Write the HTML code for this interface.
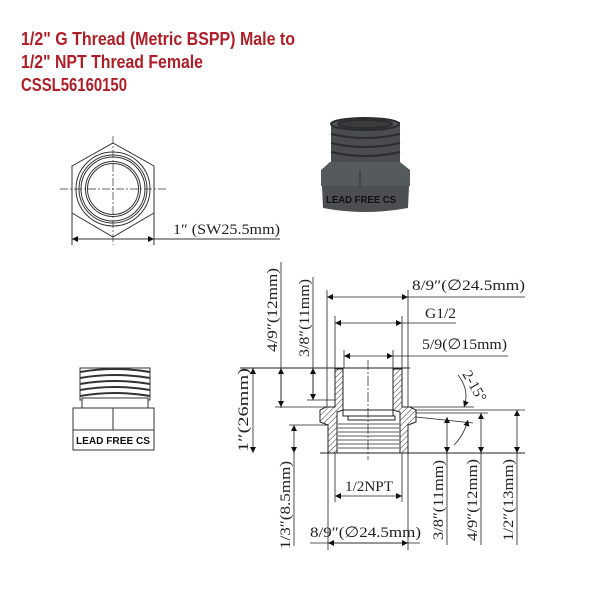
<!DOCTYPE html>
<html><head><meta charset="utf-8"><style>
html,body{margin:0;padding:0;background:#fff;}
svg{display:block}
.t{font-family:"Liberation Serif",serif;font-size:15px;fill:#222}
</style></head><body>
<svg width="600" height="600" viewBox="0 0 600 600" xmlns="http://www.w3.org/2000/svg">
<defs>
<pattern id="h" width="4" height="4" patternUnits="userSpaceOnUse" patternTransform="rotate(45)">
<line x1="0" y1="0" x2="0" y2="4" stroke="#333" stroke-width="1"/></pattern>
<marker id="a" viewBox="0 0 10 10" refX="10" refY="5" markerWidth="12" markerHeight="6" orient="auto-start-reverse" markerUnits="userSpaceOnUse">
<path d="M0,0 L10,5 L0,10 z" fill="#111"/></marker>
</defs>
<g font-family="'Liberation Sans Narrow','Liberation Sans',sans-serif" font-weight="bold" font-size="18" fill="#b01f27">
<text x="21" y="45" textLength="274" lengthAdjust="spacingAndGlyphs">1/2" G Thread (Metric BSPP) Male to</text>
<text x="21" y="68" textLength="182" lengthAdjust="spacingAndGlyphs">1/2" NPT Thread Female</text>
<text x="21" y="91" textLength="106" lengthAdjust="spacingAndGlyphs">CSSL56160150</text>
</g>

<!-- hex end view -->
<g stroke="#333" fill="none" stroke-width="1">
<polygon points="113,143 154,166 154,213 113,237 72,213 72,166"/>
<circle cx="113" cy="189" r="37"/>
<circle cx="113" cy="189" r="34"/>
<circle cx="113" cy="189" r="32"/>
<circle cx="113" cy="189" r="27.5"/>
<circle cx="113" cy="189" r="25.5"/>
<line x1="60" y1="189" x2="166" y2="189" stroke-dasharray="8,2,2,2" stroke-width="0.7"/>
<line x1="113" y1="136" x2="113" y2="245" stroke-dasharray="8,2,2,2" stroke-width="0.7"/>
<line x1="72" y1="213" x2="72" y2="245"/><line x1="154" y1="213" x2="154" y2="245"/>
<line x1="72" y1="239" x2="154" y2="239" marker-start="url(#a)" marker-end="url(#a)"/>
<line x1="154" y1="239" x2="280" y2="239"/>
</g>
<text class="t" x="173" y="234" textLength="107" lengthAdjust="spacingAndGlyphs">1″ (SW25.5mm)</text>

<!-- 3D top -->
<g>
<rect x="331" y="122" width="69" height="42" fill="#4a4d50"/>
<g stroke="#2a2c2e" stroke-width="2" fill="none">
<ellipse cx="365" cy="124" rx="34" ry="6" fill="#55585b"/>
<ellipse cx="365" cy="124" rx="27" ry="4" fill="#3a3c3e"/>
<path d="M331,134 Q365,142 400,134"/><path d="M331,143 Q365,151 400,143"/><path d="M331,152 Q365,160 400,152"/>
</g>
<path d="M321,170 L330,162 L400,162 L410,170 L410,186 L321,186 Z" fill="#555a5d"/>
<line x1="360" y1="170" x2="360" y2="186" stroke="#333"/>
<path d="M322,186 L409,186 L408,208 Q365,216 323,208 Z" fill="#4b4f52"/>
<text x="326" y="203" font-family="'Liberation Sans',sans-serif" font-weight="bold" font-size="10" fill="#111" textLength="70" lengthAdjust="spacingAndGlyphs">LEAD FREE CS</text>
</g>

<!-- left side view -->
<g stroke="#333" fill="#fff" stroke-width="1">
<rect x="80" y="368" width="70" height="32"/>
<path d="M80,372 Q115,366 150,372 M80,378 Q115,372 150,378 M80,384 Q115,378 150,384 M80,390 Q115,384 150,390 M80,396 Q115,390 150,396" fill="none" stroke-width="2"/>
<rect x="82" y="398" width="66" height="10"/>
<rect x="73" y="408" width="81" height="22"/>
<line x1="113" y1="408" x2="113" y2="430"/>
<rect x="73" y="430" width="81" height="20"/>
</g>
<text x="76" y="444" font-family="'Liberation Sans',sans-serif" font-weight="bold" font-size="10" fill="#111" textLength="74" lengthAdjust="spacingAndGlyphs">LEAD FREE CS</text>

<!-- section -->
<g stroke="#222" stroke-width="1">
<path d="M335,369 L343,369 L343,410 L337,412 L337,453 L328,453 L328,425 L320,422 L320,410 L326,407 L335,407 Z" fill="url(#h)"/>
<path d="M402,369 L393,369 L393,410 L400,412 L400,453 L408,453 L408,425 L416,422 L416,410 L410,407 L402,407 Z" fill="url(#h)"/>
<rect x="343" y="410" width="50" height="6" fill="#fff"/>
<rect x="348" y="416" width="47" height="4" fill="#fff"/>
<g fill="none" stroke-width="0.8">
<path d="M338,424 H399 M338,428 H399 M338,432 H399 M338,436 H399 M338,440 H399 M338,444 H399 M338,448 H399"/>
</g>
<line x1="320" y1="453" x2="525" y2="453"/>
<line x1="240" y1="368" x2="410" y2="368"/>
<line x1="368" y1="360" x2="368" y2="460" stroke-dasharray="10,2,2,2" stroke-width="0.7"/>
</g>
<!-- dims -->
<g stroke="#222" stroke-width="0.8" fill="none">
<line x1="327" y1="290" x2="327" y2="407"/><line x1="408" y1="290" x2="408" y2="407"/>
<line x1="327" y1="297" x2="408" y2="297" marker-start="url(#a)" marker-end="url(#a)"/>
<line x1="408" y1="297" x2="525" y2="297"/>
<line x1="335" y1="316" x2="335" y2="368"/><line x1="402" y1="316" x2="402" y2="368"/>
<line x1="335" y1="323" x2="402" y2="323" marker-start="url(#a)" marker-end="url(#a)"/>
<line x1="402" y1="323" x2="456" y2="323"/>
<line x1="344" y1="350" x2="344" y2="368"/><line x1="393" y1="350" x2="393" y2="368"/>
<line x1="344" y1="356" x2="393" y2="356" marker-start="url(#a)" marker-end="url(#a)"/>
<line x1="393" y1="356" x2="508" y2="356"/>
<line x1="253" y1="368" x2="253" y2="453" marker-start="url(#a)" marker-end="url(#a)"/>
<line x1="281" y1="262" x2="281" y2="408"/>
<line x1="281" y1="368" x2="281" y2="407" marker-start="url(#a)" marker-end="url(#a)"/>
<line x1="275" y1="407" x2="326" y2="407"/>
<line x1="313" y1="277" x2="313" y2="400"/>
<line x1="313" y1="368" x2="313" y2="400" marker-start="url(#a)" marker-end="url(#a)"/>
<line x1="307" y1="400" x2="335" y2="400"/>
<line x1="289" y1="425" x2="328" y2="425"/>
<line x1="294" y1="425" x2="294" y2="453" marker-start="url(#a)" marker-end="url(#a)"/>
<line x1="294" y1="453" x2="294" y2="546"/>
<line x1="403" y1="407" x2="474" y2="407"/>
<line x1="416" y1="410" x2="525" y2="410"/>
<line x1="416" y1="413" x2="488" y2="413"/>
<line x1="416" y1="417" x2="473" y2="423"/>
<line x1="447" y1="417" x2="447" y2="453" marker-start="url(#a)" marker-end="url(#a)"/>
<line x1="447" y1="453" x2="447" y2="545"/>
<line x1="481" y1="413" x2="481" y2="453" marker-start="url(#a)" marker-end="url(#a)"/>
<line x1="481" y1="453" x2="481" y2="545"/>
<line x1="517" y1="410" x2="517" y2="453" marker-start="url(#a)" marker-end="url(#a)"/>
<line x1="517" y1="453" x2="517" y2="545"/>
<path d="M458,375 Q470,390 464,407" marker-end="url(#a)"/>
<path d="M454,445 Q464,435 468,420" marker-end="url(#a)"/>
<line x1="335" y1="453" x2="335" y2="502"/><line x1="402" y1="453" x2="402" y2="502"/>
<line x1="335" y1="496" x2="402" y2="496" marker-start="url(#a)" marker-end="url(#a)"/>
<line x1="328" y1="453" x2="328" y2="550"/><line x1="408" y1="453" x2="408" y2="550"/>
<line x1="310" y1="543" x2="420" y2="543"/>
<line x1="328" y1="543" x2="408" y2="543" marker-start="url(#a)" marker-end="url(#a)"/>
</g>
<text class="t" x="412" y="290" textLength="113" lengthAdjust="spacingAndGlyphs">8/9″(∅24.5mm)</text>
<text class="t" x="425" y="318" textLength="31" lengthAdjust="spacingAndGlyphs">G1/2</text>
<text class="t" x="422" y="349" textLength="85" lengthAdjust="spacingAndGlyphs">5/9(∅15mm)</text>
<text class="t" x="345" y="491" textLength="48" lengthAdjust="spacingAndGlyphs">1/2NPT</text>
<text class="t" x="310" y="537" textLength="111" lengthAdjust="spacingAndGlyphs">8/9″(∅24.5mm)</text>
<text class="t" transform="translate(248,410) rotate(-90)" text-anchor="middle" textLength="84" lengthAdjust="spacingAndGlyphs">1″(26mm)</text>
<text class="t" transform="translate(277,310) rotate(-90)" text-anchor="middle" textLength="84" lengthAdjust="spacingAndGlyphs">4/9″(12mm)</text>
<text class="t" transform="translate(309,318) rotate(-90)" text-anchor="middle" textLength="78" lengthAdjust="spacingAndGlyphs">3/8″(11mm)</text>
<text class="t" transform="translate(290,505) rotate(-90)" text-anchor="middle" textLength="88" lengthAdjust="spacingAndGlyphs">1/3″(8.5mm)</text>
<text class="t" transform="translate(443,500) rotate(-90)" text-anchor="middle" textLength="80" lengthAdjust="spacingAndGlyphs">3/8″(11mm)</text>
<text class="t" transform="translate(477,500) rotate(-90)" text-anchor="middle" textLength="82" lengthAdjust="spacingAndGlyphs">4/9″(12mm)</text>
<text class="t" transform="translate(513,500) rotate(-90)" text-anchor="middle" textLength="82" lengthAdjust="spacingAndGlyphs">1/2″(13mm)</text>
<text class="t" transform="translate(462,374) rotate(60)">2-15°</text>
</svg>
</body></html>
